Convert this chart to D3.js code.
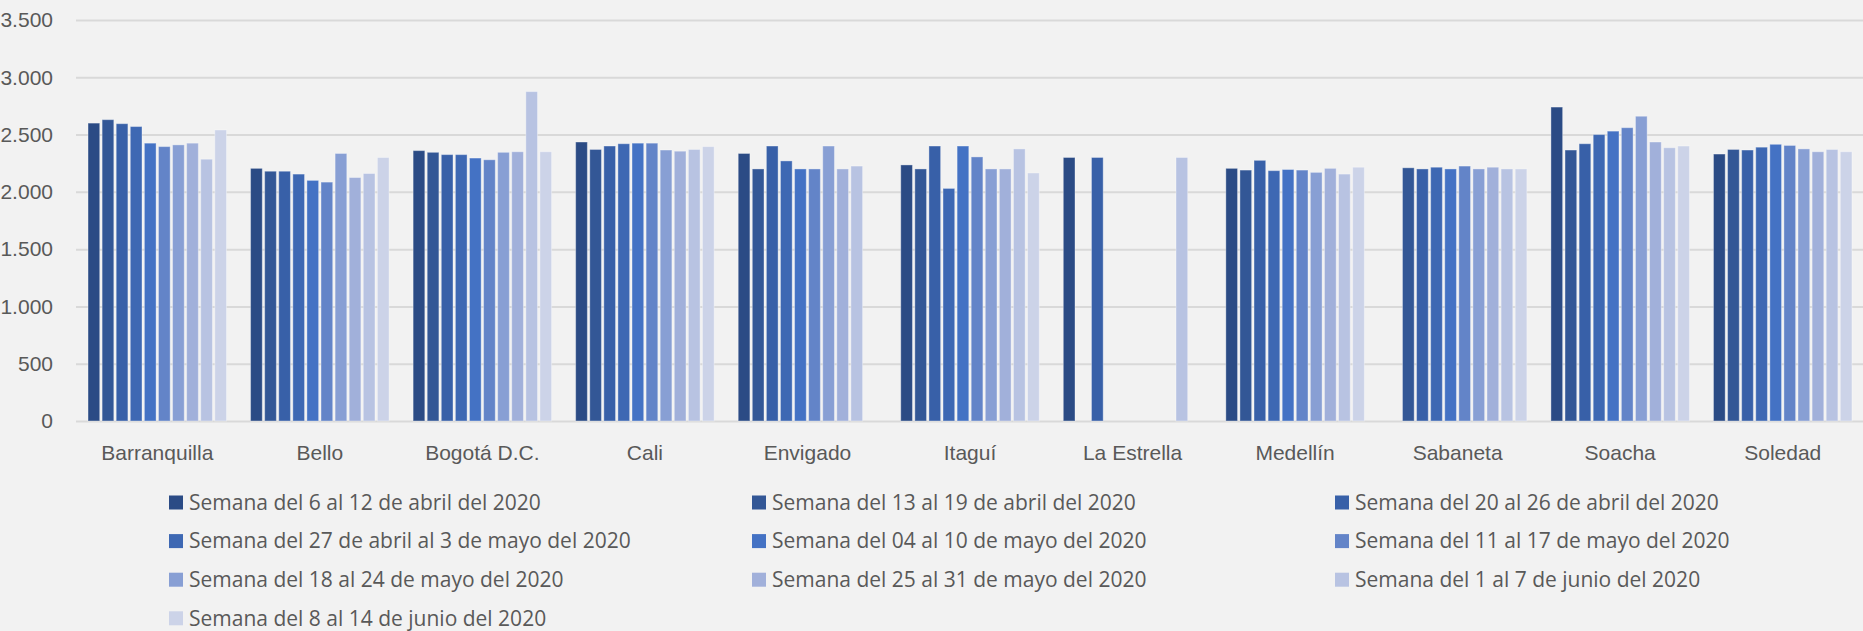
<!DOCTYPE html>
<html lang="es">
<head>
<meta charset="utf-8">
<script src="https://cdn.jsdelivr.net/npm/d3@7"></script>
<style>
  body { margin: 0; background: #f2f2f2; }
  svg { display: block; font-family: "Open Sans", sans-serif; }
  .tick text { fill: #595959; font-size: 21px; }
  .grid .tick line { stroke: #d9d9d9; stroke-width: 2; }
  .domain { display: none; }
  .legend text { fill: #595959; font-size: 21px; }
</style>
</head>
<body>
<svg id="chart"></svg>
<script>
// --- data ---
const cities = ["Barranquilla", "Bello", "Bogotá D.C.", "Cali", "Envigado", "Itaguí",
  "La Estrella", "Medellín", "Sabaneta", "Soacha", "Soledad"];

const weeks = [
  "Semana del 6 al 12 de abril del 2020",
  "Semana del 13 al 19 de abril del 2020",
  "Semana del 20 al 26 de abril del 2020",
  "Semana del 27 de abril al 3 de mayo del 2020",
  "Semana del 04 al 10 de mayo del 2020",
  "Semana del 11 al 17 de mayo del 2020",
  "Semana del 18 al 24 de mayo del 2020",
  "Semana del 25 al 31 de mayo del 2020",
  "Semana del 1 al 7 de junio del 2020",
  "Semana del 8 al 14 de junio del 2020"
];

// one array per week, values in city order (null = no data)
const week1 = [2600, 2205, 2360, 2435, 2335, 2235, 2300, 2205, null, 2740, 2330];
const week2 = [2630, 2180, 2345, 2370, 2200, 2200, null, 2190, 2210, 2365, 2370];
const week3 = [2595, 2180, 2325, 2400, 2400, 2400, 2300, 2275, 2200, 2420, 2365];
const week4 = [2570, 2155, 2325, 2420, 2270, 2030, null, 2185, 2215, 2500, 2390];
const week5 = [2425, 2100, 2295, 2425, 2200, 2400, null, 2195, 2200, 2530, 2415];
const week6 = [2395, 2085, 2280, 2425, 2200, 2305, null, 2190, 2225, 2560, 2405];
const week7 = [2410, 2335, 2345, 2365, 2400, 2200, null, 2170, 2200, 2660, 2375];
const week8 = [2425, 2125, 2350, 2355, 2200, 2200, null, 2205, 2215, 2435, 2350];
const week9 = [2285, 2160, 2875, 2370, 2225, 2375, 2300, 2155, 2200, 2385, 2370];
const week10 = [2540, 2300, 2350, 2395, null, 2165, null, 2215, 2200, 2400, 2350];

const yTicks = [0, 500, 1000, 1500, 2000, 2500, 3000, 3500];

const colors = ["#2b4b85", "#335796", "#3860a8", "#3e68b3", "#4472c4",
  "#6384c8", "#889fd4", "#a1b0da", "#b8c3e2", "#ccd3e8"];

const series = [week1, week2, week3, week4, week5, week6, week7, week8, week9, week10];

// --- layout ---
const width = 1863, height = 631;
const plot = { left: 76, right: 1864, top: 20, bottom: 421 };

const svg = d3.select("#chart").attr("width", width).attr("height", height);

const x0 = d3.scaleBand().domain(cities)
  .range([plot.left, plot.right])
  .paddingInner(0.148).paddingOuter(0.074);

const x1 = d3.scaleBand().domain(d3.range(weeks.length))
  .range([0, x0.bandwidth()])
  .paddingInner(0.17).paddingOuter(0);

const y = d3.scaleLinear().domain([0, 3500]).range([plot.bottom, plot.top]);

const fmt = d3.formatLocale({ decimal: ",", thousands: ".", grouping: [3], currency: ["$", ""] })
  .format(",d");

// gridlines + y labels
svg.append("g")
  .attr("class", "grid")
  .attr("transform", `translate(${plot.left},0)`)
  .call(d3.axisLeft(y).tickValues(yTicks).tickFormat(fmt)
    .tickSize(-(plot.right - plot.left)).tickPadding(23));

// bars
const groups = svg.append("g").selectAll("g")
  .data(cities)
  .join("g")
  .attr("transform", d => `translate(${x0(d)},0)`);

groups.selectAll("rect")
  .data((c, ci) => series.map((s, si) => ({ si, v: s[ci] })).filter(d => d.v != null))
  .join("rect")
  .attr("x", d => x1(d.si))
  .attr("width", x1.bandwidth())
  .attr("y", d => y(d.v))
  .attr("height", d => y(0) - y(d.v))
  .attr("fill", d => colors[d.si])
  .attr("stroke", "#ffffff")
  .attr("stroke-opacity", 0.35)
  .attr("stroke-width", 1);

// x labels
svg.append("g")
  .attr("transform", `translate(0,${plot.bottom})`)
  .call(d3.axisBottom(x0).tickSize(0).tickPadding(24));

// legend
const legend = svg.append("g").attr("class", "legend");
const item = legend.selectAll("g")
  .data(weeks)
  .join("g")
  .attr("transform", (d, i) => `translate(${169 + (i % 3) * 583},${502.5 + Math.floor(i / 3) * 38.6})`);

item.append("rect")
  .attr("x", 0).attr("y", -7)
  .attr("width", 14).attr("height", 14)
  .attr("fill", (d, i) => colors[i]);

item.append("text")
  .attr("x", 20).attr("dy", "0.35em")
  .text(d => d);
</script>
</body>
</html>
